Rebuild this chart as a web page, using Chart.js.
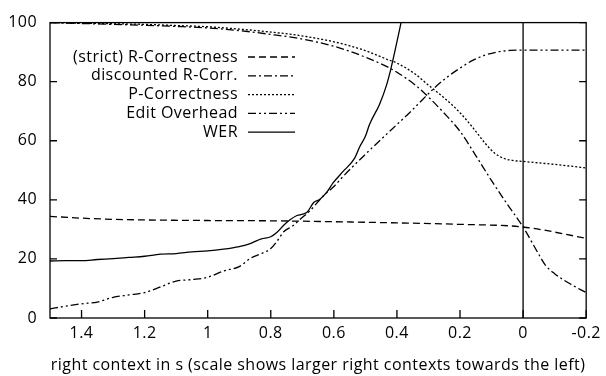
<!DOCTYPE html>
<html>
<head>
<meta charset="utf-8">
<script src="https://cdn.jsdelivr.net/npm/chart.js@4"></script>
<style>
  html, body { margin: 0; padding: 0; background: #fff; }
  #wrap { width: 606px; height: 376px; }
</style>
</head>
<body>
<div id="wrap"><canvas id="myChart" width="606" height="376"></canvas></div>
<script>
// tick labels on the x axis (axis runs from 1.5 on the left to -0.2 on the right)
const xTicks = [1.4, 1.2, 1, 0.8, 0.6, 0.4, 0.2, 0, -0.2];
const yTicks = [0, 20, 40, 60, 80, 100];

// (strict) R-Correctness
const strictX = [1.5, 1.4, 1.3, 1.2, 1.0, 0.8, 0.6, 0.4, 0.2, 0, -0.2];
const strictY = [34.4, 33.8, 33.4, 33.2, 33.0, 32.9, 32.6, 32.2, 31.7, 30.8, 27];

// discounted R-Corr.
const discX = [1.5, 1.4, 1.3, 1.2, 1.1, 1.0, 0.9, 0.8, 0.72, 0.6, 0.5, 0.43, 0.4, 0.34, 0.3, 0.25, 0.2, 0.15, 0.1, 0.05, 0, -0.05, -0.07, -0.1, -0.15, -0.2];
const discY = [100, 99.7, 99.4, 99.1, 98.7, 98.2, 97.3, 96, 94.8, 92, 88.3, 85, 83.2, 78.7, 74.8, 69.3, 63.2, 55, 46.5, 38.5, 30.8, 21.5, 18, 15, 11.5, 8.6];

// P-Correctness
const pX = [1.5, 1.4, 1.3, 1.2, 1.1, 1.0, 0.9, 0.8, 0.72, 0.6, 0.5, 0.43, 0.4, 0.34, 0.3, 0.25, 0.2, 0.15, 0.12, 0.09, 0.06, 0.03, 0, -0.1, -0.2];
const pY = [100, 99.8, 99.6, 99.4, 99, 98.6, 97.8, 96.8, 95.8, 93.5, 90.5, 87.5, 86.3, 82.4, 78.8, 74.5, 69.5, 63.2, 59.1, 55.8, 54, 53.3, 53, 52, 50.8];

// Edit Overhead
const eoX = [1.5, 1.45, 1.4, 1.35, 1.3, 1.25, 1.2, 1.15, 1.1, 1.05, 1.0, 0.95, 0.9, 0.863, 0.83, 0.8, 0.78, 0.759, 0.73, 0.706, 0.675, 0.633, 0.6, 0.57, 0.507, 0.45, 0.403, 0.36, 0.32, 0.28, 0.24, 0.2, 0.16, 0.12, 0.08, 0.04, 0, -0.1, -0.2];
const eoY = [3.1, 4.0, 4.8, 5.4, 7.0, 7.8, 8.6, 10.5, 12.5, 13, 13.8, 15.9, 17.4, 20.3, 21.8, 23.5, 26, 29.2, 31.2, 33.5, 36.4, 41.4, 44.5, 48, 54.7, 60.5, 65.2, 69.5, 73.8, 78, 81.6, 84.6, 87.2, 89, 90.1, 90.6, 90.7, 90.7, 90.7];

// WER
const werX = [1.5, 1.45, 1.4, 1.35, 1.3, 1.25, 1.2, 1.15, 1.1, 1.05, 1.0, 0.95, 0.9, 0.863, 0.83, 0.8, 0.78, 0.759, 0.74, 0.717, 0.685, 0.664, 0.644, 0.623, 0.602, 0.57, 0.534, 0.518, 0.5, 0.487, 0.455, 0.434, 0.42, 0.403, 0.387, 0.375];
const werY = [19.3, 19.4, 19.4, 19.8, 20.1, 20.5, 20.9, 21.6, 21.8, 22.4, 22.7, 23.3, 24.2, 25.3, 26.8, 27.5, 29, 31.4, 33.2, 34.7, 35.8, 39.1, 40.2, 42.5, 45.8, 49.7, 54.1, 58, 61.5, 65.5, 72.4, 78.5, 84, 92, 100, 106];

// vertical line at zero
const zeroX = [0, 0];
const zeroY = [0, 100];

const FONT = '"Open Sans"';
const FSIZE = 16;
const SPACING = '0.45px';
const pts = (xs, ys) => xs.map((x, i) => ({ x: x, y: ys[i] }));

const line = (label, xs, ys, dash) => ({
    label: label,
    data: pts(xs, ys),
    borderColor: '#000',
    borderWidth: 1.3,
    borderDash: dash,
    pointRadius: 0,
    fill: false,
    cubicInterpolationMode: 'monotone'
});

// frame, inward ticks and a legend inside the plot
const framePlugin = {
    id: 'frame',
    beforeDraw(chart) {
        chart.ctx.letterSpacing = SPACING;
    },
    afterDatasetsDraw(chart) {
        const { ctx, chartArea: a, scales } = chart;
        ctx.save();
        ctx.strokeStyle = '#000';
        ctx.lineWidth = 1.3;
        ctx.setLineDash([]);
        ctx.strokeRect(a.left, a.top, a.right - a.left, a.bottom - a.top);
        ctx.beginPath();
        yTicks.forEach(v => {
            const y = scales.y.getPixelForValue(v);
            ctx.moveTo(a.left, y); ctx.lineTo(a.left + 7, y);
            ctx.moveTo(a.right, y); ctx.lineTo(a.right - 7, y);
        });
        xTicks.forEach(v => {
            const x = scales.x.getPixelForValue(v);
            ctx.moveTo(x, a.bottom); ctx.lineTo(x, a.bottom - 8);
        });
        ctx.stroke();

        // legend
        ctx.letterSpacing = SPACING;
        ctx.font = FSIZE + 'px ' + FONT;
        ctx.fillStyle = '#000';
        ctx.textAlign = 'right';
        ctx.textBaseline = 'middle';
        const textRight = 238, sx0 = 248, sx1 = 295;
        let y = 57;
        chart.data.datasets.forEach(ds => {
            if (!ds.label) return;
            ctx.fillText(ds.label, textRight, y);
            ctx.beginPath();
            ctx.setLineDash(ds.borderDash || []);
            ctx.moveTo(sx0, y); ctx.lineTo(sx1, y);
            ctx.stroke();
            y += 18.8;
        });
        ctx.restore();
    }
};

const ctx = document.getElementById('myChart').getContext('2d');
const myChart = new Chart(ctx, {
    type: 'line',
    data: {
        datasets: [
            line('(strict) R-Correctness', strictX, strictY, [7, 4]),
            line('discounted R-Corr.', discX, discY, [8, 3, 2, 3]),
            line('P-Correctness', pX, pY, [2, 2]),
            line('Edit Overhead', eoX, eoY, [8, 3, 2, 3, 2, 3]),
            line('WER', werX, werY, []),
            Object.assign(line('', zeroX, zeroY, []), { cubicInterpolationMode: 'default' })
        ]
    },
    options: {
        responsive: false,
        animation: false,
        layout: { padding: { top: 17, right: 14, left: 0, bottom: 1 } },
        plugins: { legend: { display: false }, tooltip: { enabled: false } },
        scales: {
            x: {
                type: 'linear',
                reverse: true,
                min: -0.2,
                max: 1.5,
                afterBuildTicks: s => { s.ticks = xTicks.map(v => ({ value: v })); },
                afterFit: s => { s.height = 57; },
                grid: { display: false, drawTicks: false },
                border: { display: false },
                ticks: {
                    padding: 6,
                    color: '#000',
                    font: { family: FONT, size: FSIZE },
                    callback: v => String(Number(v.toFixed(1)))
                },
                title: {
                    display: true,
                    text: 'right context in s (scale shows larger right contexts towards the left)',
                    color: '#000',
                    font: { family: FONT, size: FSIZE },
                    padding: { top: 2, bottom: 0 }
                }
            },
            y: {
                min: 0,
                max: 100,
                afterBuildTicks: s => { s.ticks = yTicks.map(v => ({ value: v })); },
                afterFit: s => { s.width = 50; },
                grid: { display: false, drawTicks: false },
                border: { display: false },
                ticks: {
                    padding: 13,
                    color: '#000',
                    font: { family: FONT, size: FSIZE }
                }
            }
        }
    },
    plugins: [framePlugin]
});
</script>
</body>
</html>
